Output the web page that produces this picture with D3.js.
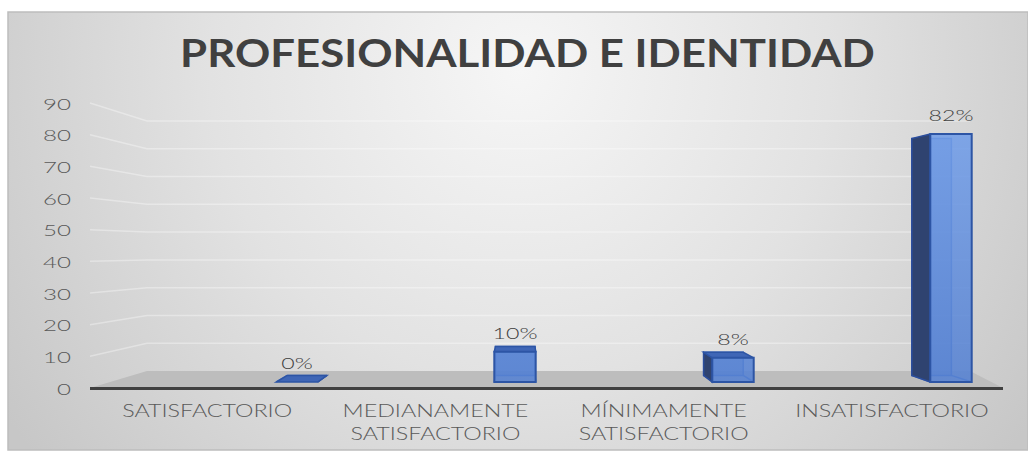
<!DOCTYPE html>
<html><head><meta charset="utf-8">
<script src="https://cdn.jsdelivr.net/npm/d3@7"></script>
<style>html,body{margin:0;padding:0;background:#fff;} svg{display:block}</style>
</head><body>
<script>
// ---- data ----
const title = "PROFESIONALIDAD E IDENTIDAD";
const categories = ["SATISFACTORIO", "MEDIANAMENTE SATISFACTORIO", "MÍNIMAMENTE SATISFACTORIO", "INSATISFACTORIO"];
const categoryLines = [["SATISFACTORIO"], ["MEDIANAMENTE", "SATISFACTORIO"], ["MÍNIMAMENTE", "SATISFACTORIO"], ["INSATISFACTORIO"]];
const values = [0, 10, 8, 82];
const valueLabels = ["0%", "10%", "8%", "82%"];
const yTicks = [0, 10, 20, 30, 40, 50, 60, 70, 80, 90];

// ---- layout ----
const W = 1028, H = 457;
const svg = d3.select("body").append("svg").attr("width", W).attr("height", H);
const defs = svg.append("defs");

const bg = defs.append("radialGradient").attr("id", "bg").attr("gradientUnits", "userSpaceOnUse")
  .attr("cx", 520).attr("cy", 70).attr("r", 620);
bg.append("stop").attr("offset", 0).attr("stop-color", "#f6f6f6");
bg.append("stop").attr("offset", 0.5).attr("stop-color", "#e2e2e2");
bg.append("stop").attr("offset", 1).attr("stop-color", "#c7c7c7");

const fg = defs.append("linearGradient").attr("id", "front").attr("gradientUnits", "userSpaceOnUse")
  .attr("x1", 0).attr("y1", 110).attr("x2", 0).attr("y2", 385);
fg.append("stop").attr("offset", 0).attr("stop-color", "#74a0ea");
fg.append("stop").attr("offset", 1).attr("stop-color", "#5581d2");

svg.append("rect").attr("width", W).attr("height", H).attr("fill", "#fff");
svg.append("rect").attr("x", 8).attr("y", 12).attr("width", W - 8).attr("height", 438)
  .attr("fill", "url(#bg)").attr("stroke", "#bdbdbd").attr("stroke-width", 1.5);

// scales
const vDomain = [0, 90];
const yFront = d3.scaleLinear().domain(vDomain).range([388, 103]);
const yBack = d3.scaleLinear().domain(vDomain).range([371, 121]);
const uFront = d3.scaleLinear().domain([0, 1]).range([90, 1003]);
const uBack = d3.scaleLinear().domain([0, 1]).range([147, 970]);
const xLabel = d3.scaleBand().domain(categories).range([90, 1003]);
const xBar = d3.scaleBand().domain(categories).range([188, 1060]);
const yBar = d3.scaleLinear().domain(vDomain).range([382, 382 - 90 * 3.024]);
const barW = xBar.bandwidth() * 0.19;

// gridlines (left wall + back wall)
const grid = svg.append("g");
yTicks.forEach(t => {
  if (t === 0) return;
  grid.append("path")
    .attr("d", d3.line()([[uFront(0), yFront(t)], [uBack(0), yBack(t)], [uBack(1), yBack(t)]]))
    .attr("fill", "none").attr("stroke", "#ffffff").attr("stroke-opacity", 0.35).attr("stroke-width", 1.5);
});

// floor
svg.append("path")
  .attr("d", d3.line()([[uFront(0), yFront(0)], [uFront(1), yFront(0)], [uBack(1), yBack(0)], [uBack(0), yBack(0)]]) + "Z")
  .attr("fill", "#bdbdbd");
svg.append("line").attr("x1", uFront(0)).attr("x2", uFront(1)).attr("y1", yFront(0) + 0.5).attr("y2", yFront(0) + 0.5)
  .attr("stroke", "#404040").attr("stroke-width", 3);

const FONT = "Lato, 'Open Sans', sans-serif";
// text helper (horizontally stretched like the reference)
function stretchedText(g, str, cx, y, size, weight, fill, targetW, sxOverride) {
  const t = g.append("text").text(str)
    .attr("font-family", FONT).attr("font-size", size)
    .attr("font-weight", weight).attr("fill", fill).attr("text-anchor", "middle");
  const w = t.node().getComputedTextLength();
  const sx = sxOverride != null ? sxOverride : targetW / w;
  t.attr("transform", `translate(${cx},${y}) scale(${sx},1)`);
  return { t, w, sx };
}
function measure(str, size, weight) {
  const t = svg.append("text").text(str).attr("font-family", FONT)
    .attr("font-size", size).attr("font-weight", weight);
  const w = t.node().getComputedTextLength(); t.remove(); return w;
}

// y tick labels (right aligned at x=71)
const tickSize = 15.5;
const tickSx = 28 / measure("90", tickSize, 300);
const tg = svg.append("g");
yTicks.forEach(t => {
  const s = String(t);
  const w = measure(s, tickSize, 300) * tickSx;
  stretchedText(tg, s, 71 - w / 2, yFront(t) + 6.5, tickSize, 300, "#595959", 0, tickSx);
});

// bars
const vp = [520, 235], depth = 0.045;
const proj = p => [p[0] + depth * (vp[0] - p[0]), p[1] + depth * (vp[1] - p[1])];
const poly = pts => d3.line()(pts) + "Z";
const bars = svg.append("g");
categories.forEach((c, i) => {
  const x0 = xBar(c) + (xBar.bandwidth() - barW) / 2, x1 = x0 + barW;
  const yb = yBar(0), yt = yBar(values[i]);
  const FLB = [x0, yb], FRB = [x1, yb], FRT = [x1, yt], FLT = [x0, yt];
  const BLB = proj(FLB), BRB = proj(FRB), BRT = proj(FRT), BLT = proj(FLT);
  const g = bars.append("g");
  g.append("path").attr("d", poly([BLB, BRB, BRT, BLT])).attr("fill", "#4d78c6").attr("fill-opacity", 0.5)
    .attr("stroke", "#3f6ac0").attr("stroke-width", 1.5);
  [[FLB, BLB], [FRB, BRB]].forEach(e => g.append("line")
    .attr("x1", e[0][0]).attr("y1", e[0][1]).attr("x2", e[1][0]).attr("y2", e[1][1])
    .attr("stroke", "#3f6ac0").attr("stroke-width", 1.5));
  if (x0 > vp[0]) g.append("path").attr("d", poly([FLT, BLT, BLB, FLB]))
    .attr("fill", "#2f4370").attr("stroke", "#2b4d9c").attr("stroke-width", 1.5);
  if (x1 < vp[0]) g.append("path").attr("d", poly([FRT, BRT, BRB, FRB]))
    .attr("fill", "#2f4370").attr("stroke", "#2b4d9c").attr("stroke-width", 1.5);
  if (yt > vp[1]) g.append("path").attr("d", poly([FLT, FRT, BRT, BLT]))
    .attr("fill", "#3f66b6").attr("stroke", "#2d55a5").attr("stroke-width", 1.5);
  if (yt < yb) g.append("path").attr("d", poly([FLB, FRB, FRT, FLT]))
    .attr("fill", "url(#front)").attr("fill-opacity", 0.88).attr("stroke", "#2d55a5").attr("stroke-width", 2);
});

// data labels
const dlSize = 16;
const dlSx = 45 / measure("82%", dlSize, 300);
const dl = svg.append("g");
categories.forEach((c, i) => {
  const cx = xBar(c) + xBar.bandwidth() / 2;
  stretchedText(dl, valueLabels[i], cx, yBar(values[i]) - 13, dlSize, 300, "#404040", 0, dlSx);
});

// category labels
const catSize = 17;
const catSx = 170 / measure("SATISFACTORIO", catSize, 300);
const cg = svg.append("g");
categories.forEach((c, i) => {
  const cx = xLabel(c) + xLabel.bandwidth() / 2 + 3;
  categoryLines[i].forEach((ln, j) => {
    stretchedText(cg, ln, cx, 417 + j * 23, catSize, 300, "#595959", 0, catSx);
  });
});

// title
stretchedText(svg, title, 527.5, 67, 38, 700, "#404040", 695);
</script>
</body></html>
